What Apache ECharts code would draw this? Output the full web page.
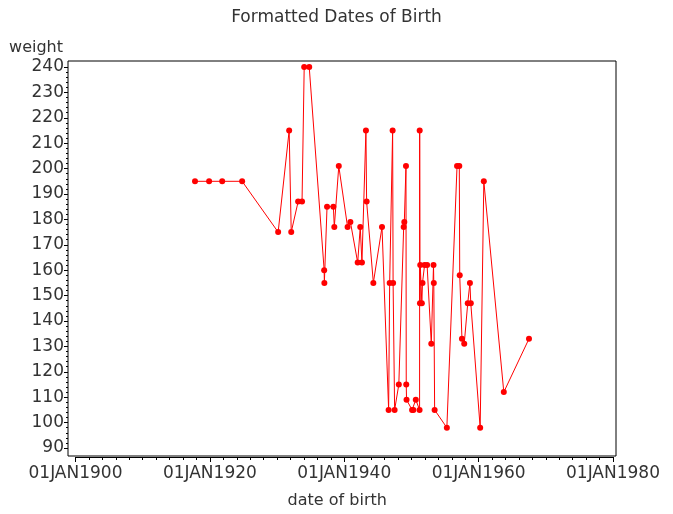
<!DOCTYPE html>
<html>
<head>
<meta charset="utf-8">
<script src="https://cdn.jsdelivr.net/npm/echarts@6/dist/echarts.min.js"></script>
<style>
  html, body { margin: 0; padding: 0; background: #fff; }
  #chart { width: 673px; height: 514px; }
</style>
</head>
<body>
<div id="chart"></div>
<script>
// dates of birth, in data order
const birthDates = [
  '1917-10-15', '1919-11-20', '1921-11-01', '1924-10-20', '1930-03-01',
  '1931-10-20', '1932-02-10', '1933-02-20', '1933-09-20', '1934-01-15',
  '1934-10-15', '1937-01-05', '1937-01-15', '1937-06-10', '1938-05-20',
  '1938-07-10', '1939-03-10', '1940-07-01', '1940-12-01', '1942-01-01',
  '1942-05-20', '1942-08-20', '1943-03-25', '1943-05-01', '1944-05-01',
  '1945-08-15', '1946-08-10', '1946-10-05', '1947-03-15', '1947-04-10',
  '1947-07-01', '1948-02-15', '1948-11-05', '1948-12-10', '1949-03-10',
  '1949-03-25', '1949-04-10', '1950-02-05', '1950-04-15', '1950-08-25',
  '1951-03-20', '1951-03-25', '1951-04-10', '1951-04-25', '1951-07-20',
  '1951-08-25', '1951-12-15', '1952-05-01', '1952-12-15', '1953-04-15',
  '1953-05-01', '1953-06-15', '1955-04-10', '1956-10-15', '1957-02-15',
  '1957-03-10', '1957-07-10', '1957-11-10', '1958-05-20', '1958-09-15',
  '1958-11-01', '1960-03-25', '1960-10-10', '1963-10-01', '1967-07-01'
]
const weights = [
  195, 195, 195, 195, 175,
  215, 175, 187, 187, 240,
  240, 160, 155, 185, 185,
  177, 201, 177, 179, 163,
  177, 163, 215, 187, 155,
  177, 105, 155, 215, 155,
  105, 115, 177, 179, 201,
  115, 109, 105, 105, 109,
  105, 215, 147, 162, 147,
  155, 162, 162, 131, 162,
  155, 105, 98, 201, 201,
  158, 133, 131, 147, 155,
  147, 98, 195, 112, 133
]
const xTickYears = [1900, 1920, 1940, 1960, 1980]
const yTicks = [90, 240, 10] // min, max, step

const font = 'DejaVu Sans'
const ink = '#333'

// date string -> decimal year
function toYear (s) {
  const d = new Date(s + 'T00:00:00Z')
  const y = d.getUTCFullYear()
  const a = Date.UTC(y, 0, 1)
  const b = Date.UTC(y + 1, 0, 1)
  return y + (d.getTime() - a) / (b - a)
}

const points = birthDates.map((s, i) => [toYear(s), weights[i]])

const myChart = echarts.init(document.getElementById('chart'), null, { renderer: 'canvas' })
const option = {
  animation: false,
  backgroundColor: '#fff',
  title: {
    text: 'Formatted Dates of Birth',
    left: 'center',
    top: 4,
    textStyle: { fontFamily: font, fontSize: 17, fontWeight: 'normal', color: ink }
  },
  grid: [
    // frame
    { left: 68, right: 57, top: 61, bottom: 58, show: true, borderColor: '#000', borderWidth: 1, backgroundColor: 'transparent' },
    // data area
    { left: 75.5, right: 60, top: 67, bottom: 63 }
  ],
  xAxis: [
    { gridIndex: 0, type: 'value', show: false, min: 0, max: 1 },
    {
      gridIndex: 1,
      type: 'value',
      min: xTickYears[0],
      max: xTickYears[xTickYears.length - 1],
      interval: xTickYears[1] - xTickYears[0],
      offset: 9,
      name: 'date of birth',
      nameLocation: 'middle',
      nameGap: 36,
      nameTextStyle: { fontFamily: font, fontSize: 16, color: ink, padding: [0, 14, 0, 0] },
      axisLine: { show: true, lineStyle: { color: '#000', width: 1 } },
      axisTick: { show: true, length: 5, lineStyle: { color: '#000' } },
      minorTick: { show: true, splitNumber: 10, length: 3, lineStyle: { color: '#000' } },
      splitLine: { show: false },
      axisLabel: {
        fontFamily: font,
        fontSize: 17,
        color: ink,
        margin: 8,
        formatter: v => '01JAN' + v
      }
    }
  ],
  yAxis: [
    { gridIndex: 0, type: 'value', show: false, min: 0, max: 1 },
    {
      gridIndex: 1,
      type: 'value',
      min: yTicks[0],
      max: yTicks[1],
      interval: yTicks[2],
      offset: 7.5,
      name: 'weight',
      nameLocation: 'end',
      nameGap: 11,
      nameTextStyle: { fontFamily: font, fontSize: 16, color: ink, align: 'right', padding: [0, 5, 0, 0] },
      axisLine: { show: false },
      axisTick: { show: true, length: 4, lineStyle: { color: '#000' } },
      minorTick: { show: true, splitNumber: 5, length: 2, lineStyle: { color: '#000' } },
      splitLine: { show: false },
      axisLabel: { fontFamily: font, fontSize: 17, color: ink, margin: 4 }
    }
  ],
  series: [
    {
      type: 'line',
      xAxisIndex: 1,
      yAxisIndex: 1,
      data: points,
      symbol: 'circle',
      symbolSize: 6,
      showAllSymbol: true,
      itemStyle: { color: '#ff0000' },
      lineStyle: { color: '#ff0000', width: 1 }
    }
  ]
}
myChart.setOption(option)
</script>
</body>
</html>
